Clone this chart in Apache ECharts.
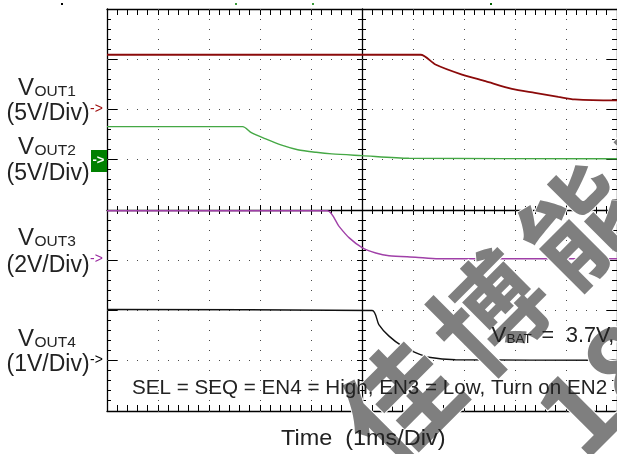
<!DOCTYPE html>
<html>
<head>
<meta charset="utf-8">
<script src="https://cdn.jsdelivr.net/npm/echarts@6/dist/echarts.min.js"></script>
<style>
html,body{margin:0;padding:0;background:#fff;}
#c{width:617px;height:454px;}
</style>
</head>
<body>
<div id="c"></div>
<script>
// ---- data (time in ms, voltage in V) ----
const TIME_VOUT1 = [0, 6.15, 6.44, 6.96, 7.42, 7.94, 8.39, 8.85, 9.17, 9.96, 10];
const VOUT1      = [5.45, 5.45, 4.48, 3.48, 2.82, 2.06, 1.66, 1.26, 1.0, 0.9, 0.9];
const TIME_VOUT2 = [0, 2.66, 2.83, 3.10, 3.44, 3.74, 4.10, 4.41, 5.0, 5.92, 10];
const VOUT2      = [3.3, 3.3, 2.7, 2.1, 1.43, 1.0, 0.74, 0.58, 0.41, 0.15, 0.1];
const TIME_VOUT3 = [0, 4.32, 4.55, 4.75, 5.01, 5.27, 5.53, 6.05, 6.5, 10];
const VOUT3      = [1.97, 1.97, 1.35, 0.89, 0.49, 0.29, 0.18, 0.12, 0.06, 0.06];
const TIME_VOUT4 = [0, 5.20, 5.33, 5.53, 5.79, 6.05, 6.31, 6.83, 10];
const VOUT4      = [1.02, 1.0, 0.72, 0.49, 0.29, 0.16, 0.07, 0.02, 0.01];

// channel labels
const CH_NAMES = ['OUT1', 'OUT2', 'OUT3', 'OUT4'];
const CH_SCALES = ['(5V/Div)', '(5V/Div)', '(2V/Div)', '(1V/Div)'];
const NOTE_COND = 'SEL = SEQ = EN4 = High, EN3 = Low, Turn on EN2';
const NOTE_VBAT = '=  3.7V,';
const X_TITLE = 'Time  (1ms/Div)';

// channel axis ranges: volts per division & ground division (from bottom of 8)
const VOLTS_PER_DIV = [5, 5, 2, 1];
const GROUND_DIV = [6, 5, 3, 1];
const COLORS = ['#8b0a0a', '#45a845', '#a040a8', '#111111'];

// graticule: 10 x 8 divisions, 5 subdivisions each
const X_DIVS = 10, Y_DIVS = 8, SUBDIV = 5;
const X_TICKS = [];
for (let i = 0; i <= X_DIVS * SUBDIV; i++) X_TICKS.push([i / SUBDIV, i % SUBDIV === 0 ? 1 : 0]);
const Y_TICKS = [];
for (let i = 0; i <= Y_DIVS * SUBDIV; i++) Y_TICKS.push([-Y_DIVS / 2 + i / SUBDIV, i % SUBDIV === 0 ? 1 : 0]);

const pairs = (t, v) => t.map((x, i) => [x, v[i]]);

const chart = echarts.init(document.getElementById('c'));
const FONT = '"Liberation Sans", Arial, sans-serif';
const GL = 107, GT = 9, GW = 510, GH = 402;

function frameX(pos, offset) {
  return {
    gridIndex: 0, type: 'value', min: 0, max: X_DIVS, interval: 1, position: pos, offset: offset,
    axisLine: {show: true, onZero: false, lineStyle: {color: '#000', width: 1.3}},
    axisTick: {show: false}, axisLabel: {show: false}, splitLine: {show: false}
  };
}
function frameY(pos, offset) {
  return {
    gridIndex: 0, type: 'value', min: -Y_DIVS / 2, max: Y_DIVS / 2, interval: 1, position: pos, offset: offset,
    axisLine: {show: true, onZero: false, lineStyle: {color: '#000', width: 1.3}},
    axisTick: {show: false}, axisLabel: {show: false}, splitLine: {show: false}
  };
}

const xAxes = [
  frameX('bottom', 0), frameX('top', 0), frameX('bottom', -GH / 2),
  {gridIndex: 1, type: 'value', min: 0, max: X_DIVS, show: false}
];
const yAxes = [frameY('left', 0), frameY('right', 0), frameY('left', -GW / 2)];
const chanAxisStart = yAxes.length;
VOLTS_PER_DIV.forEach((vd, i) => {
  yAxes.push({gridIndex: 1, type: 'value', show: false, min: -GROUND_DIV[i] * vd, max: (Y_DIVS - GROUND_DIV[i]) * vd});
});

const seriesData = [
  pairs(TIME_VOUT1, VOUT1), pairs(TIME_VOUT2, VOUT2),
  pairs(TIME_VOUT3, VOUT3), pairs(TIME_VOUT4, VOUT4)
];
const series = seriesData.map((d, i) => ({
  type: 'line', name: 'V' + CH_NAMES[i], xAxisIndex: 3, yAxisIndex: chanAxisStart + i,
  data: d, showSymbol: false, smooth: 0.25, z: 3,
  lineStyle: {color: COLORS[i], width: i === 0 ? 1.8 : 1.4}
}));

// text helper: y is baseline
function t(x, baseline, s, size, color, extra) {
  return Object.assign({
    type: 'text', x: x, y: baseline - 0.35 * size, z: 10, silent: true,
    style: {text: s, font: size + 'px ' + FONT, fill: color || '#222',
      textAlign: 'left', textVerticalAlign: 'middle', align: 'left', verticalAlign: 'middle'}
  }, extra || {});
}

const ROW_V = [96.7, 156, 247, 348];
const ROW_S = [121.7, 181.5, 273.3, 373];
const MARK_Y = [109.8, 160.1, 260.6, 361.2];
const graphics = [];

// watermark
const WM = ['佳', '博', '能', '电'];
const wmCenters = [[400, 402], [490, 313], [580, 225], [670, 137]];
WM.forEach((ch, i) => {
  graphics.push({
    type: 'text', x: wmCenters[i][0], y: wmCenters[i][1], rotation: Math.PI / 4, z: 20, silent: true,
    style: {text: ch, font: 'bold 112px "Noto Sans CJK SC"', fill: '#7f7f7f', stroke: '#fff', lineWidth: 2,
      textAlign: 'center', textVerticalAlign: 'middle', align: 'center', verticalAlign: 'middle'}
  });
});
graphics.push({
  type: 'text', x: 601, y: 387, rotation: Math.PI / 4, z: 20, silent: true,
  style: {text: '18', font: 'bold 112px "Noto Sans CJK SC"', fill: '#7f7f7f', stroke: '#fff', lineWidth: 2,
    textAlign: 'center', textVerticalAlign: 'middle', align: 'center', verticalAlign: 'middle'}
});

const MARK_COLORS = ['#a01010', null, '#9a2aa0', '#000'];
CH_NAMES.forEach((n, i) => {
  graphics.push(t(18, ROW_V[i], 'V', 24, '#222'));
  graphics.push(t(34.5, ROW_V[i], n, 15.5, '#222'));
  graphics.push(t(6.5, ROW_S[i], CH_SCALES[i], 23, '#222'));
  if (MARK_COLORS[i]) {
    graphics.push({type: 'text', x: 90, y: MARK_Y[i] - 1, z: 10, silent: true,
      style: {text: '->', font: '14px ' + FONT, fill: MARK_COLORS[i],
        textAlign: 'left', textVerticalAlign: 'middle', align: 'left', verticalAlign: 'middle'}});
  }
});
// VOUT2 marker box
graphics.push({type: 'rect', shape: {x: 91, y: 150, width: 16, height: 22}, style: {fill: '#008000'}, z: 10, silent: true});
graphics.push({type: 'text', x: 92.5, y: 160, z: 11, silent: true,
  style: {text: '->', font: 'bold 13px ' + FONT, fill: '#fff', textAlign: 'left', textVerticalAlign: 'middle', align: 'left', verticalAlign: 'middle'}});

// notes
graphics.push(t(491.5, 343.3, 'V', 22, '#222', {z: 25}));
graphics.push(t(506.5, 344.3, 'BAT', 13.5, '#222', {z: 25}));
graphics.push(t(541.5, 343.3, NOTE_VBAT, 21.5, '#222', {z: 25}));
graphics.push(t(132, 395.5, NOTE_COND, 19.6, '#222', {z: 25, scaleX: 1.053}));
graphics.push(t(281, 446.7, X_TITLE, 22, '#222', {z: 25, scaleX: 1.065}));

// trigger / position marks at top
[[61, 3, '#000'], [235, 3, '#3a9a3a'], [312, 3, '#3a9a3a'], [490, 3, '#006000']].forEach(m => {
  graphics.push({type: 'rect', shape: {x: m[0], y: m[1], width: 2, height: 2}, style: {fill: m[2]}, z: 10, silent: true});
});

chart.setOption({
  animation: false,
  grid: [
    {left: GL, top: GT, width: GW, height: GH},
    {left: GL, top: GT, width: GW, height: GH}
  ],
  xAxis: xAxes,
  yAxis: yAxes,
  series: series
});

// graticule ticks and dots, placed through the frame grid's scales
function box(x, y, w, h, fill) {
  return {type: 'rect', silent: true, z: 1, shape: {x: x, y: y, width: w, height: h}, style: {fill: fill}};
}
const grat = [];
try {
  const px = (x, y) => chart.convertToPixel({gridIndex: 0}, [x, y]);
  const TK = '#000', DOT = '#4a4a4a';
  X_TICKS.forEach(([v, major]) => {
    const b = px(v, -Y_DIVS / 2), tp = px(v, Y_DIVS / 2), c = px(v, 0);
    const x0 = Math.round(b[0] - 0.5);
    const cl = major ? 5 : 4;
    grat.push(box(x0, b[1] - 6, 1, 6, TK));
    grat.push(box(x0, tp[1], 1, 6, TK));
    grat.push(box(x0, Math.round(c[1]) - cl, 1, 2 * cl, TK));
    if (major && v > 0 && v < X_DIVS && v !== X_DIVS / 2) {
      Y_TICKS.forEach(([w]) => {
        const p = px(v, w);
        grat.push(box(x0, Math.round(p[1] - 0.5), 1, 1, DOT));
      });
    }
  });
  Y_TICKS.forEach(([v, major]) => {
    const l = px(0, v), r = px(X_DIVS, v), c = px(X_DIVS / 2, v);
    const y0 = Math.round(l[1] - 0.5);
    const cl = major ? 5 : 4;
    grat.push(box(l[0], y0, major ? 11 : 4, 1, TK));
    grat.push(box(r[0] - (major ? 11 : 5), y0, major ? 11 : 5, 1, TK));
    grat.push(box(Math.round(c[0]) - cl, y0, 2 * cl, 1, TK));
    if (major && v > -Y_DIVS / 2 && v < Y_DIVS / 2 && v !== 0) {
      X_TICKS.forEach(([w]) => {
        const p = px(w, v);
        grat.push(box(Math.round(p[0] - 0.5), y0, 1, 1, DOT));
      });
    }
  });
} catch (e) { /* keep chart without graticule marks */ }

chart.setOption({graphic: grat.concat(graphics)});
</script>
</body>
</html>
